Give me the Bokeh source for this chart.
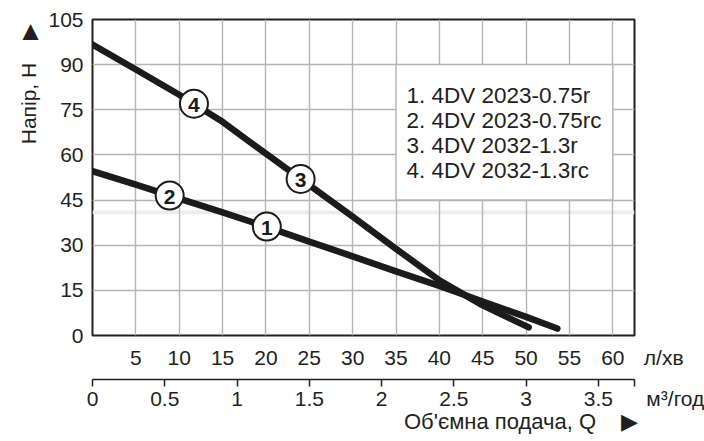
from bokeh.plotting import figure
from bokeh.models import (Range1d, LinearAxis, FixedTicker, Grid, Title,
                          CustomJSTickFormatter, ColumnDataSource)
from bokeh.core.properties import value
from bokeh.embed import file_html
from bokeh.resources import INLINE

# ---- data ----
q_upper = [0, 5, 10, 15, 20, 25, 30, 35, 40, 45, 50.3]          # l/min
h_upper = [96.7, 88.4, 80.0, 71.0, 60.4, 50.0, 39.5, 28.8, 18.3, 10.0, 2.7]
q_lower = [0, 5, 10, 15, 20, 25, 30, 35, 40, 45, 50, 53.6]
h_lower = [54.6, 50.1, 45.5, 40.9, 36.2, 31.2, 26.3, 21.3, 16.5, 11.3, 6.2, 2.3]

marker_ids = ["1", "2", "3", "4"]
marker_q = [20.1, 8.9, 24.0, 11.7]
marker_h = [36.2, 46.5, 52.0, 77.0]

legend_labels = ["1. 4DV 2023-0.75r", "2. 4DV 2023-0.75rc",
                 "3. 4DV 2032-1.3r", "4. 4DV 2032-1.3rc"]

h_ticks = [0, 15, 30, 45, 60, 75, 90, 105]
lpm_ticks = [5, 10, 15, 20, 25, 30, 35, 40, 45, 50, 55, 60]
m3h_ticks = [0, 0.5, 1, 1.5, 2, 2.5, 3, 3.5]
grid_x = [5, 10, 15, 20, 25, 30, 35, 40, 45, 50, 55, 60]
grid_y = [15, 30, 45, 60, 75, 90]

y_title = "Напір, Н"
x_title = "Об'ємна подача, Q"
lpm_unit = "л/хв"
m3h_unit = "м³/год"

Q_MAX = 62.5
M3H_MAX = 3.75
H_MAX = 105

FONT = "Liberation Sans"
TXT = "#231f20"
LINE = "#1b1b1b"
GRID = "#b5b5b5"
FS = "21px"
NB = "\u00a0"

p = figure(width=704, height=441, x_range=Range1d(0, Q_MAX), y_range=Range1d(0, H_MAX),
           x_axis_type=None, y_axis_type=None, output_backend="svg",
           toolbar_location=None, min_border_left=92, min_border_right=70,
           min_border_top=19, min_border_bottom=106)
p.extra_x_ranges = {"m3h": Range1d(0, M3H_MAX)}
p.outline_line_color = TXT
p.outline_line_width = 2
p.background_fill_color = "white"
p.border_fill_color = "white"

# faint scan band inside the frame
p.quad(left=[0], right=[Q_MAX], bottom=[40.3], top=[41.5], fill_color="#ececec",
       line_color=None, level="underlay")

p.add_layout(Grid(dimension=0, ticker=FixedTicker(ticks=grid_x),
                  grid_line_color=GRID, grid_line_width=1.4))
p.add_layout(Grid(dimension=1, ticker=FixedTicker(ticks=grid_y),
                  grid_line_color=GRID, grid_line_width=1.4))

# left axis
ya = LinearAxis(ticker=FixedTicker(ticks=h_ticks), axis_line_color=None,
                major_tick_out=0, major_tick_in=0, minor_tick_out=0, minor_tick_in=0,
                major_label_standoff=9, major_label_text_font=FONT,
                major_label_text_font_size=FS, major_label_text_color=TXT,
                axis_label=" ", axis_label_standoff=0,
                axis_label_text_font_size="3px")
p.add_layout(ya, "left")

# bottom axis l/min (unit written as the label of the end tick)
xa1 = LinearAxis(ticker=FixedTicker(ticks=lpm_ticks + [Q_MAX]),
                 formatter=CustomJSTickFormatter(
                     args=dict(unit=NB * 10 + lpm_unit, end=Q_MAX),
                     code="return tick == end ? unit : String(tick)"),
                 axis_line_color=None,
                 major_tick_out=0, major_tick_in=0, minor_tick_out=0, minor_tick_in=0,
                 major_label_standoff=10, major_label_text_font=FONT,
                 major_label_text_font_size=FS, major_label_text_color=TXT,
                 axis_label=" ", axis_label_standoff=0,
                 axis_label_text_font_size="4px")
p.add_layout(xa1, "below")

# bottom axis m3/h
xa2 = LinearAxis(x_range_name="m3h", ticker=FixedTicker(ticks=m3h_ticks + [M3H_MAX]),
                 formatter=CustomJSTickFormatter(
                     args=dict(unit=NB * 14 + m3h_unit, end=M3H_MAX),
                     code="return tick == end ? unit : String(tick)"),
                 axis_line_color=TXT, axis_line_width=1.5,
                 major_tick_line_color=TXT, major_tick_line_width=1.5,
                 major_tick_out=7, major_tick_in=0, minor_tick_out=0, minor_tick_in=0,
                 major_label_standoff=0, major_label_text_font=FONT,
                 major_label_text_font_size=FS, major_label_text_color=TXT)
p.add_layout(xa2, "below")

# axis titles with arrows
p.add_layout(Title(text=y_title + NB * 4 + "▶", align="right", offset=4,
                   vertical_align="bottom", standoff=0, text_font=FONT,
                   text_font_size=FS, text_font_style="normal", text_color=TXT), "left")
p.add_layout(Title(text=x_title + NB * 4 + "▶", align="right", offset=-3,
                   vertical_align="bottom", standoff=-12, text_font=FONT,
                   text_font_size="22px", text_font_style="normal", text_color=TXT), "below")

# legend box and texts
p.quad(left=[35], right=[60], bottom=[45], top=[90], fill_color="white",
       line_color=GRID, line_width=1.4)
leg = ColumnDataSource(dict(x=[36.2] * 4, y=[79.7 - 8.3 * i for i in range(4)],
                            t=legend_labels))
p.text("x", "y", text="t", source=leg, text_font=value(FONT), text_font_size="22.5px",
       text_color=TXT, text_baseline="middle", text_align="left")

# curves
p.line(q_upper, h_upper, line_width=6.5, line_color=LINE, line_cap="round", line_join="round")
p.line(q_lower, h_lower, line_width=6.5, line_color=LINE, line_cap="round", line_join="round")

# markers
ms = ColumnDataSource(dict(x=marker_q, y=marker_h, t=marker_ids))
p.scatter("x", "y", source=ms, marker="circle", size=28, fill_color="white",
          line_color=LINE, line_width=2)
p.text("x", "y", text="t", source=ms, text_font=value(FONT), text_font_style="bold",
       text_font_size="21px", text_color=LINE, text_align="center",
       text_baseline="middle", y_offset=1)

open("out.html", "w").write(file_html(p, INLINE))
